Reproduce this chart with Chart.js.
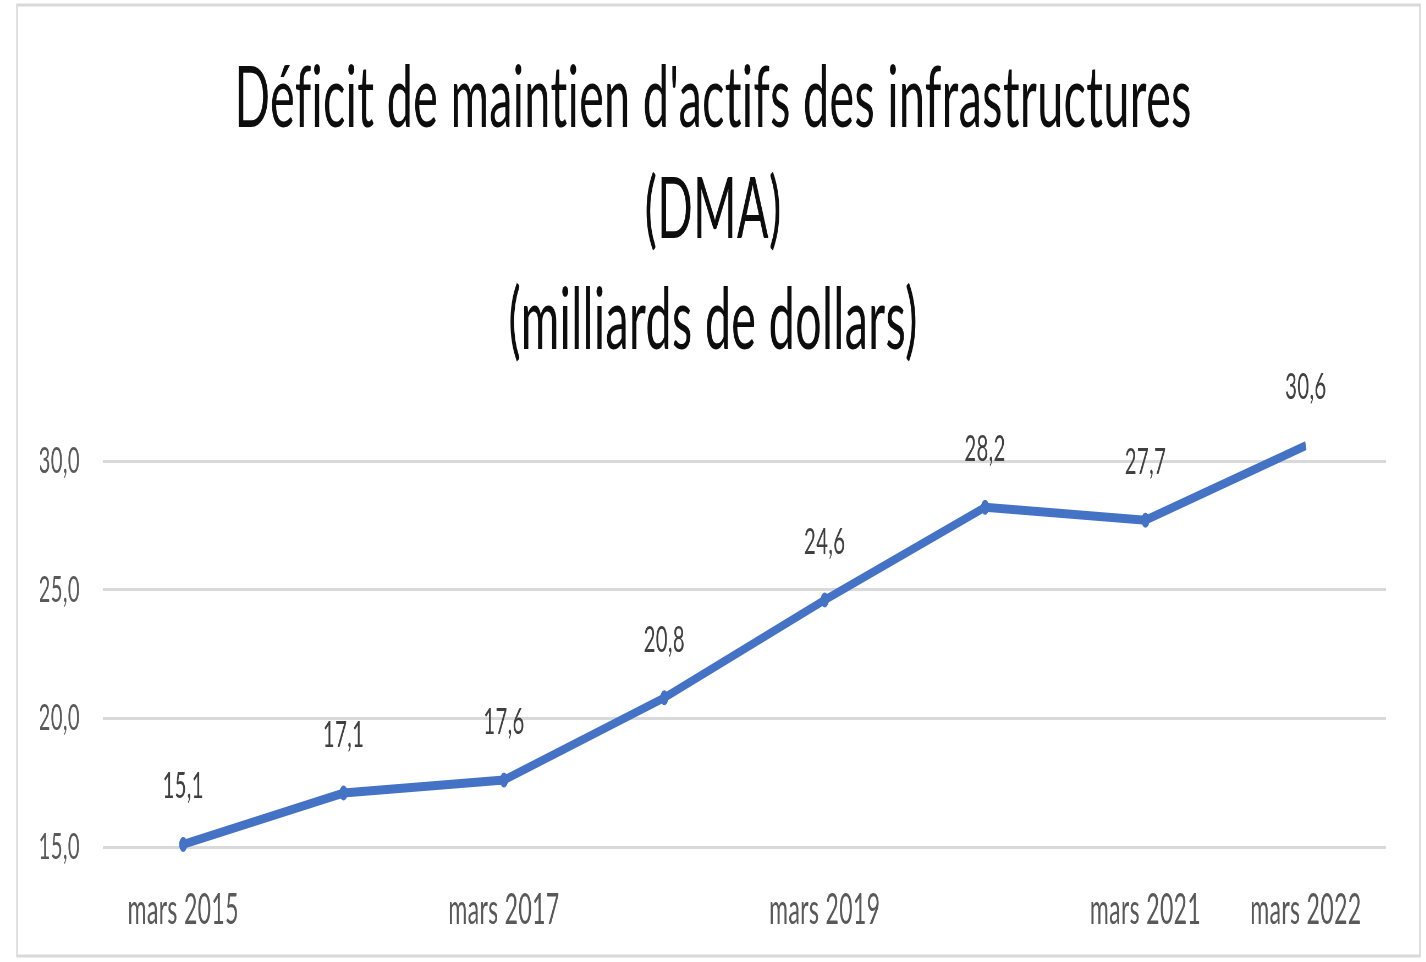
<!DOCTYPE html>
<html>
<head>
<meta charset="utf-8">
<script src="https://cdn.jsdelivr.net/npm/chart.js@4.4.1/dist/chart.umd.min.js"></script>
<style>
  html, body { margin: 0; padding: 0; background: #fff; overflow: hidden; }
  #wrap { width: 1426px; height: 962px; overflow: hidden; position: relative; }
  #c { position: absolute; left: 0; top: 0; transform-origin: 0 0; }
</style>
</head>
<body>
<div id="wrap"><canvas id="c"></canvas></div>
<script>
// ---- data ----
const categories = ['mars 2015', 'mars 2016', 'mars 2017', 'mars 2018', 'mars 2019', 'mars 2020', 'mars 2021', 'mars 2022'];
const tickLabels = ['mars 2015', '', 'mars 2017', '', 'mars 2019', '', 'mars 2021', 'mars 2022'];
const dmaValues = [15.1, 17.1, 17.6, 20.8, 24.6, 28.2, 27.7, 30.6];
const yTicks = [15, 20, 25, 30];
const titleLines = ["Déficit de maintien d'actifs des infrastructures", '(DMA)', '(milliards de dollars)'];

// ---- layout (horizontal squeeze like the reference) ----
const SX = 0.55;
const H = 962;
const W = Math.round(1426 / SX);
const canvas = document.getElementById('c');
canvas.width = W; canvas.height = H;
canvas.style.width = W + 'px'; canvas.style.height = H + 'px';
canvas.style.transform = 'scaleX(' + SX + ')';

const PLOT_LEFT = 103 / SX;
const PLOT_RIGHT = 1386 / SX;
const SIDE_PAD = W - PLOT_RIGHT;
const FONT = 'Lato, Carlito, "Open Sans", sans-serif';
const fmt = v => v.toFixed(1).replace('.', ',');

const frame = {
  id: 'frame',
  beforeDraw(chart) {
    const ctx = chart.ctx;
    try { ctx.letterSpacing = '0.6px'; } catch (e) {}
    ctx.save();
    ctx.fillStyle = '#fff';
    ctx.fillRect(0, 0, W, H);
    ctx.strokeStyle = '#d9d9d9';
    ctx.lineWidth = 3;
    ctx.strokeRect(17 / SX, 5, (1420 - 17) / SX, 951);
    ctx.restore();
  }
};

const dataLabels = {
  id: 'dataLabels',
  afterDatasetsDraw(chart) {
    const ctx = chart.ctx;
    const meta = chart.getDatasetMeta(0);
    ctx.save();
    ctx.font = '37px ' + FONT;
    ctx.fillStyle = '#404040';
    ctx.textAlign = 'center';
    ctx.textBaseline = 'middle';
    meta.data.forEach((pt, i) => {
      ctx.fillText(fmt(chart.data.datasets[0].data[i]), pt.x, pt.y - 58);
    });
    ctx.restore();
  }
};

new Chart(canvas, {
  type: 'line',
  data: {
    labels: tickLabels,
    datasets: [{
      label: 'DMA',
      data: dmaValues,
      borderColor: '#4472C4',
      backgroundColor: '#4472C4',
      borderWidth: 9,
      pointRadius: 7,
      pointBorderWidth: 1,
      pointBackgroundColor: '#4472C4',
      pointBorderColor: '#4472C4',
      tension: 0,
      clip: false
    }]
  },
  options: {
    responsive: false,
    animation: false,
    devicePixelRatio: 1,
    layout: { padding: { left: SIDE_PAD, right: SIDE_PAD, top: 0, bottom: 0 } },
    plugins: {
      legend: { display: false },
      tooltip: { enabled: false },
      title: {
        display: true,
        text: titleLines,
        color: '#0d0d0d',
        font: { family: FONT, size: 85, weight: 'normal', lineHeight: 111 / 85 },
        padding: { top: 44, bottom: 84 }
      }
    },
    scales: {
      x: {
        offset: true,
        grid: { display: false, drawTicks: false },
        border: { display: false },
        ticks: {
          color: '#595959',
          font: { family: FONT, size: 42 },
          padding: 38,
          maxRotation: 0,
          autoSkip: false
        },
        afterFit(s) { s.height = H - 847; }
      },
      y: {
        min: 15,
        max: 30,
        afterBuildTicks(s) { s.ticks = yTicks.map(v => ({ value: v })); },
        grid: { color: '#d9d9d9', lineWidth: 3, drawTicks: false },
        border: { display: false },
        ticks: {
          color: '#595959',
          font: { family: FONT, size: 37 },
          padding: 42,
          callback: v => fmt(v)
        },
        afterFit(s) { s.width = PLOT_LEFT - SIDE_PAD; }
      }
    }
  },
  plugins: [frame, dataLabels]
});
</script>
</body>
</html>
